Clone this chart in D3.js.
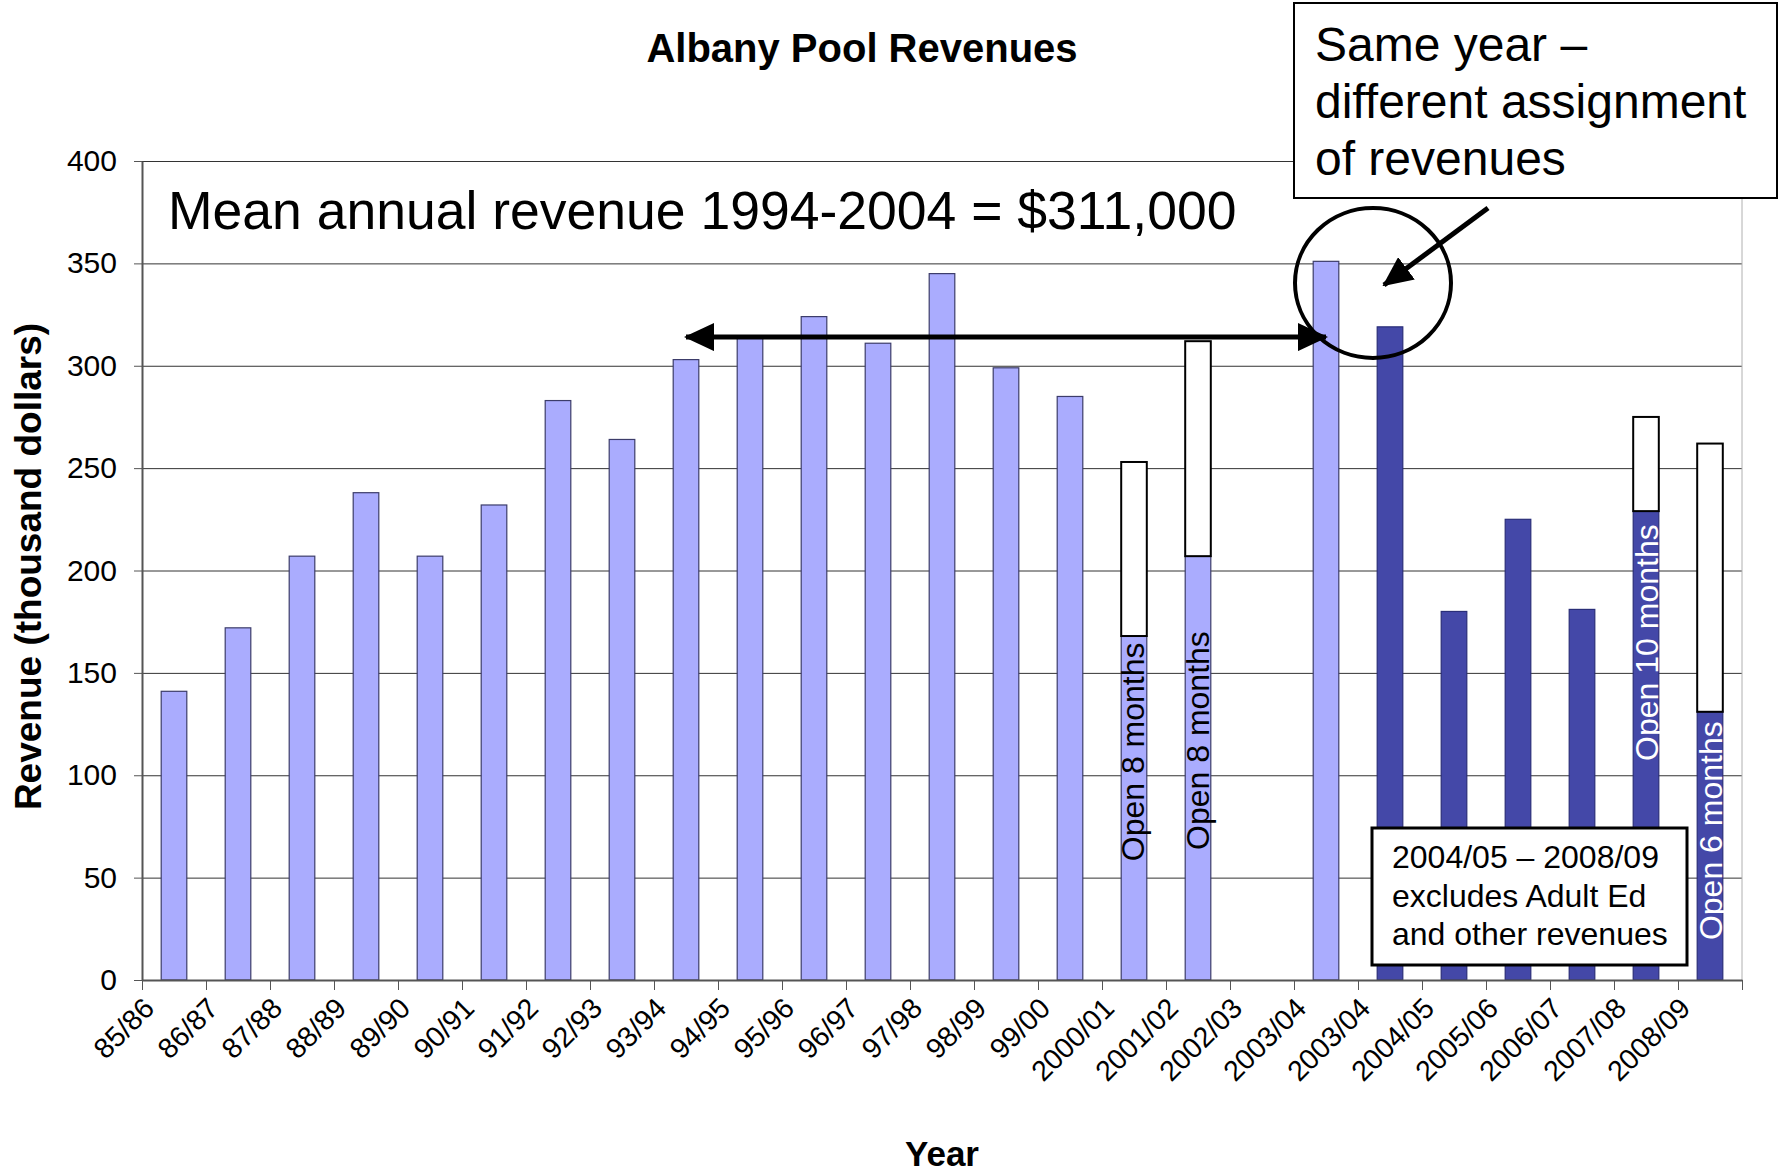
<!DOCTYPE html>
<html>
<head>
<meta charset="utf-8">
<script src="https://cdn.jsdelivr.net/npm/d3@7"></script>
<style>
body { margin: 0; background: #fff; }
svg { font-family: "Liberation Sans", Arial, sans-serif; }
</style>
</head>
<body>
<div id="chart"></div>
<script>
// data (thousand dollars)
var years = ["85/86","86/87","87/88","88/89","89/90","90/91","91/92","92/93","93/94","94/95",
             "95/96","96/97","97/98","98/99","99/00","2000/01","2001/02","2002/03","2003/04","2003/04",
             "2004/05","2005/06","2006/07","2007/08","2008/09"];
var revenue = [141,172,207,238,207,232,283,264,303,314,
               324,311,345,299,285,168,207,null,351,319,
               180,225,181,229,131];
// white part stacked on top (estimate for a full year)
var fullYearExtra = [0,0,0,0,0,0,0,0,0,0,
                     0,0,0,0,0,85,105,0,0,0,
                     0,0,0,46,131];
var series = ["all","all","all","all","all","all","all","all","all","all",
              "all","all","all","all","all","all","all","all","all","excl",
              "excl","excl","excl","excl","excl"];
var yTicks = [0,50,100,150,200,250,300,350,400];
var monthNotes = [
  {i: 15, text: "Open 8 months"},
  {i: 16, text: "Open 8 months"},
  {i: 23, text: "Open 10 months"},
  {i: 24, text: "Open 6 months"}
];

// set the dimensions and margins of the graph
var margin = {top: 161, right: 38, bottom: 194, left: 142},
width = 1780 - margin.left - margin.right,
height = 1174 - margin.top - margin.bottom;

var root = d3.select("#chart").append("svg")
.attr("width", 1780)
.attr("height", 1174);

var svg = root.append("g")
.attr("transform", "translate(" + margin.left + "," + margin.top + ")");

var x = d3.scaleBand().domain(d3.range(years.length)).range([0, width]).paddingInner(0.6).paddingOuter(0.3);
var xEdge = d3.scaleLinear().domain([0, years.length]).range([0, width]);
var y = d3.scaleLinear().domain([0, 400]).range([height, 0]);
var color = {all: "#aaacfe", excl: "#4448a8"};
var cx = function(i) { return x(i) + x.bandwidth() / 2; };

// gridlines
svg.append("g")
.call(d3.axisLeft(y).tickValues(yTicks).tickSize(-width).tickFormat(""))
.call(function(g) { g.select(".domain").remove(); })
.selectAll("line").attr("stroke", "#333");

// right border of plot
svg.append("line")
.attr("x1", width).attr("x2", width).attr("y1", 0).attr("y2", height)
.attr("stroke", "#b0b0b0");

// Y axis
svg.append("g")
.call(d3.axisLeft(y).tickValues(yTicks).tickSize(8).tickSizeOuter(0).tickPadding(17))
.call(function(g) { g.select(".domain").attr("stroke", "#555").attr("stroke-width", 2); })
.call(function(g) { g.selectAll("line").attr("stroke", "#555"); })
.selectAll("text").style("font-size", "30px").attr("fill", "#000");

// Label for y axis
svg.append("text")
.attr("transform", "translate(" + (41 - margin.left) + "," + (height / 2 - 4) + ") rotate(-90)")
.style("text-anchor", "middle")
.style("font-size", "37px")
.style("font-weight", "bold")
.text("Revenue (thousand dollars)");

// Show the bars
svg.append("g")
.selectAll("rect")
.data(revenue.map(function(v, i) { return {i: i, v: v}; }).filter(function(d) { return d.v != null; }))
.enter().append("rect")
.attr("x", function(d) { return x(d.i); })
.attr("y", function(d) { return y(d.v); })
.attr("width", x.bandwidth())
.attr("height", function(d) { return height - y(d.v); })
.attr("fill", function(d) { return color[series[d.i]]; })
.attr("stroke", function(d) { return series[d.i] == "all" ? "#3c3c6a" : "#2a2e78"; })
.attr("stroke-width", 1.2);

// white stacked part
svg.append("g")
.selectAll("rect")
.data(fullYearExtra.map(function(v, i) { return {i: i, v: v, b: revenue[i]}; }).filter(function(d) { return d.v > 0; }))
.enter().append("rect")
.attr("x", function(d) { return x(d.i); })
.attr("y", function(d) { return y(d.b + d.v); })
.attr("width", x.bandwidth())
.attr("height", function(d) { return y(d.b) - y(d.b + d.v); })
.attr("fill", "#fff")
.attr("stroke", "#000")
.attr("stroke-width", 2);

// X axis (ticks between categories)
svg.append("g")
.attr("transform", "translate(0," + height + ")")
.call(d3.axisBottom(xEdge).tickValues(d3.range(years.length + 1)).tickSize(10).tickSizeOuter(0).tickFormat(""))
.call(function(g) { g.select(".domain").attr("stroke", "#555").attr("stroke-width", 2); })
.selectAll("line").attr("stroke", "#555");

svg.append("g")
.selectAll("text")
.data(years).enter().append("text")
.attr("transform", function(d, i) { return "translate(" + (cx(i) - 18) + "," + (height + 30) + ") rotate(-45)"; })
.style("text-anchor", "end")
.style("font-size", "28.5px")
.text(function(d) { return d; });

// Label for x axis
svg.append("text")
.attr("x", width / 2)
.attr("y", height + 186)
.style("text-anchor", "middle")
.style("font-size", "35px")
.style("font-weight", "bold")
.text("Year");

// title
root.append("text")
.attr("x", 862)
.attr("y", 62)
.style("text-anchor", "middle")
.style("font-size", "40px")
.style("font-weight", "bold")
.text("Albany Pool Revenues");

// "Open n months" notes inside bars
var noteStart = {15: 58, 16: 63.5, 23: 107, 24: 19.5};
var noteShift = {15: 10, 16: 11, 23: 12, 24: 12};
svg.append("g")
.selectAll("text")
.data(monthNotes).enter().append("text")
.attr("transform", function(d) { return "translate(" + (cx(d.i) + noteShift[d.i]) + "," + y(noteStart[d.i]) + ") rotate(-90)"; })
.style("font-size", "32px")
.attr("fill", function(d) { return series[d.i] == "all" ? "#000" : "#fff"; })
.text(function(d) { return d.text; });

// mean annotation
svg.append("text")
.attr("x", 26)
.attr("y", 68)
.style("font-size", "53.5px")
.text("Mean annual revenue 1994-2004 = $311,000");

// arrow markers
var defs = root.append("defs");
defs.append("marker")
.attr("id", "head")
.attr("markerUnits", "userSpaceOnUse")
.attr("viewBox", "0 0 30 28")
.attr("refX", 28).attr("refY", 14)
.attr("markerWidth", 30).attr("markerHeight", 28)
.attr("orient", "auto-start-reverse")
.append("path").attr("d", "M0,0 L30,14 L0,28 Z").attr("fill", "#000");

// double arrow across 1994-2004
svg.append("line")
.attr("x1", cx(8)).attr("x2", cx(18))
.attr("y1", y(314)).attr("y2", y(314))
.attr("stroke", "#000").attr("stroke-width", 5)
.attr("marker-start", "url(#head)")
.attr("marker-end", "url(#head)");

// circle around the two 2003/04 bars
svg.append("ellipse")
.attr("cx", (cx(18) + cx(19)) / 2 + 15)
.attr("cy", 122)
.attr("rx", 78).attr("ry", 75)
.attr("fill", "none").attr("stroke", "#000").attr("stroke-width", 4);

// callout box
var callout = svg.append("g").attr("transform", "translate(1152,-158)");
callout.append("rect")
.attr("width", 483).attr("height", 195)
.attr("fill", "#fff").attr("stroke", "#000").attr("stroke-width", 2);
callout.selectAll("text")
.data(["Same year \u2013", "different assignment", "of revenues"])
.enter().append("text")
.attr("x", 21)
.attr("y", function(d, i) { return 58 + i * 57; })
.style("font-size", "48px")
.text(function(d) { return d; });

svg.append("line")
.attr("x1", 1346).attr("y1", 47)
.attr("x2", 1242).attr("y2", 124)
.attr("stroke", "#000").attr("stroke-width", 5)
.attr("marker-end", "url(#head)");

// note box for 2004/05 - 2008/09
var note = svg.append("g").attr("transform", "translate(1230,667)");
note.append("rect")
.attr("width", 315).attr("height", 137)
.attr("fill", "#fff").attr("stroke", "#000").attr("stroke-width", 3);
note.selectAll("text")
.data(["2004/05 \u2013 2008/09", "excludes Adult Ed", "and other revenues"])
.enter().append("text")
.attr("x", 20)
.attr("y", function(d, i) { return 40 + i * 38.5; })
.style("font-size", "32px")
.text(function(d) { return d; });
</script>
</body>
</html>
